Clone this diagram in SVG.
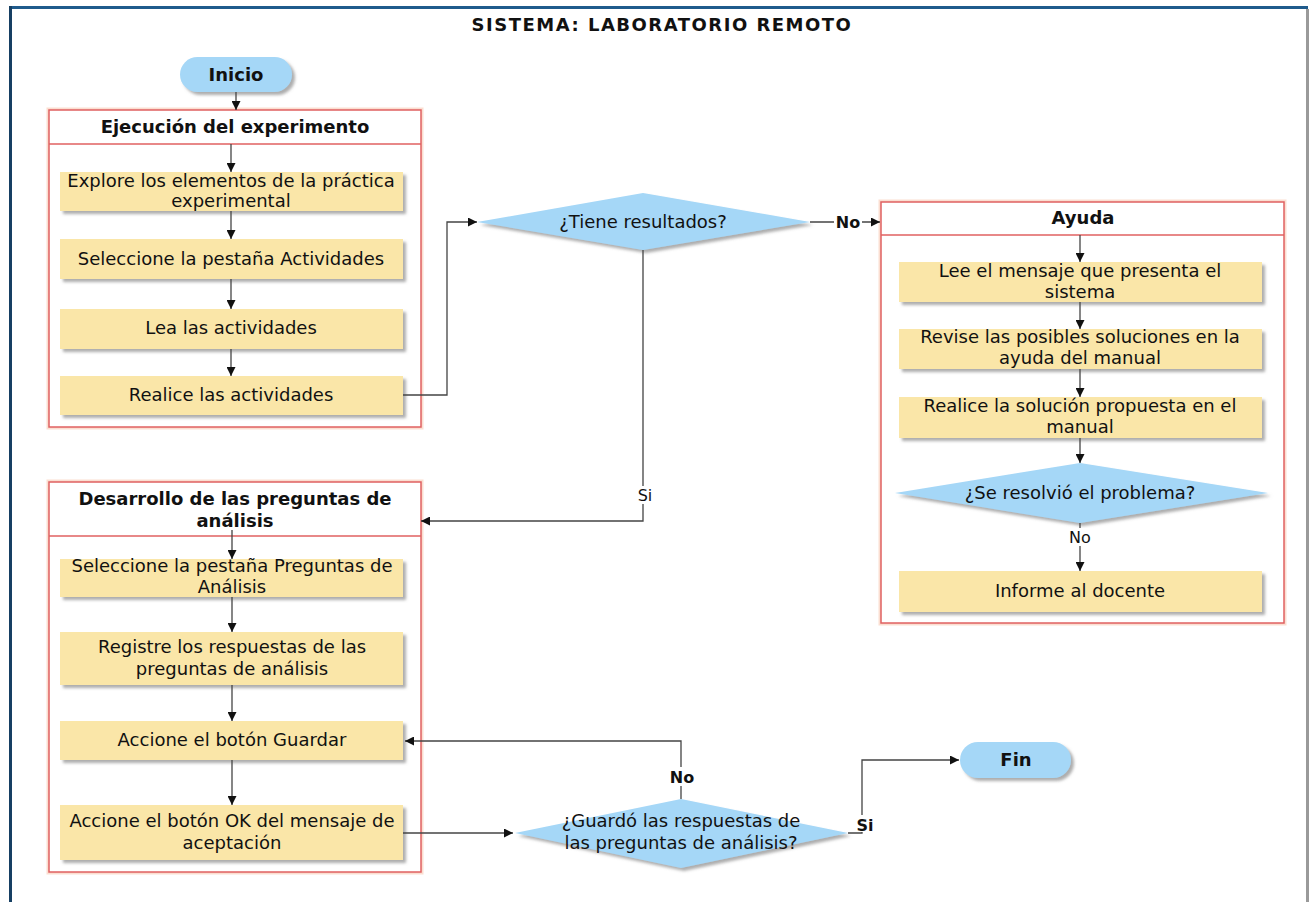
<svg xmlns="http://www.w3.org/2000/svg" width="1311" height="902" viewBox="0 0 1311 902">
<defs>
<style>
text{font-family:"DejaVu Sans","Liberation Sans",sans-serif;fill:#111;text-anchor:middle}
.t{font-size:18px}
.b{font-size:18px;font-weight:bold}
.lb{font-size:16px;font-weight:bold}
.ln2{font-size:16px}
.box{fill:#fae6a8;filter:url(#sh)}
.dia{fill:#a5d7f7;filter:url(#sh)}
.pill{fill:#a5d7f7;filter:url(#sh)}
.cont{fill:#fff;stroke:#e06060;stroke-width:1.5}
.glow{fill:none;stroke:#f7b59a;stroke-width:5;opacity:.45}
.ln{fill:none;stroke:#444;stroke-width:1.3}
.arr{marker-end:url(#ah)}
.lbg{fill:#fff}
</style>
<marker id="ah" viewBox="0 0 10 10" refX="10" refY="5" markerWidth="10" markerHeight="9" markerUnits="userSpaceOnUse" orient="auto">
<path d="M0,0 L10,5 L0,10 z" fill="#111"/>
</marker>
<filter id="sh" x="-10%" y="-20%" width="130%" height="160%">
<feDropShadow dx="3" dy="3" stdDeviation="1.5" flood-color="#777" flood-opacity="0.6"/>
</filter>
</defs>
<rect x="0" y="0" width="1311" height="902" fill="#fff"/>
<g id="frame">
<rect x="9" y="6" width="1299" height="3" fill="#1f5b8c"/>
<rect x="9" y="6" width="3" height="896" fill="#163f63"/>
<rect x="1306" y="9" width="3" height="893" fill="#9a9a9a"/>
</g>
<text class="b" x="662" y="31" style="letter-spacing:1.5px">SISTEMA: LABORATORIO REMOTO</text>

<g id="inicio">
<rect class="pill" x="180" y="57" width="112" height="35" rx="17.5"/>
<text class="b" x="236" y="81">Inicio</text>
</g>

<g id="ejecucion">
<rect class="glow" x="49" y="110" width="372" height="317"/>
<rect class="cont" x="49" y="110" width="372" height="317"/>
<line x1="49" y1="144" x2="421" y2="144" stroke="#e06060" stroke-width="1.5"/>
<text class="b" x="235" y="133">Ejecución del experimento</text>
</g>
<g id="explore">
<rect class="box" x="60" y="172" width="343" height="39"/>
<text class="t" x="231" y="187">Explore los elementos de la práctica</text>
<text class="t" x="231" y="207">experimental</text>
</g>
<g id="seleccione-act">
<rect class="box" x="60" y="239" width="343" height="40"/>
<text class="t" x="231" y="265">Seleccione la pestaña Actividades</text>
</g>
<g id="lea">
<rect class="box" x="60" y="309" width="343" height="40"/>
<text class="t" x="231" y="334">Lea las actividades</text>
</g>
<g id="realice">
<rect class="box" x="60" y="376" width="343" height="39"/>
<text class="t" x="231" y="401">Realice las actividades</text>
</g>

<g id="tiene">
<polygon class="dia" points="477,222 643,193 810,222 643,250"/>
<text class="t" x="643" y="228">¿Tiene resultados?</text>
</g>

<g id="ayuda">
<rect class="glow" x="881" y="202" width="403" height="421"/>
<rect class="cont" x="881" y="202" width="403" height="421"/>
<line x1="881" y1="235" x2="1284" y2="235" stroke="#e06060" stroke-width="1.5"/>
<text class="b" x="1083" y="224">Ayuda</text>
</g>
<g id="lee">
<rect class="box" x="899" y="262" width="363" height="40"/>
<text class="t" x="1080" y="277">Lee el mensaje que presenta el</text>
<text class="t" x="1080" y="298">sistema</text>
</g>
<g id="revise">
<rect class="box" x="899" y="329" width="363" height="40"/>
<text class="t" x="1080" y="343">Revise las posibles soluciones en la</text>
<text class="t" x="1080" y="364">ayuda del manual</text>
</g>
<g id="realice-sol">
<rect class="box" x="899" y="397" width="363" height="41"/>
<text class="t" x="1080" y="412">Realice la solución propuesta en el</text>
<text class="t" x="1080" y="433">manual</text>
</g>
<g id="resolvio">
<polygon class="dia" points="895,493 1080,463 1268,493 1080,523"/>
<text class="t" x="1080" y="499">¿Se resolvió el problema?</text>
</g>
<g id="informe">
<rect class="box" x="899" y="571" width="363" height="41"/>
<text class="t" x="1080" y="597">Informe al docente</text>
</g>

<g id="desarrollo">
<rect class="glow" x="49" y="482" width="372" height="390"/>
<rect class="cont" x="49" y="482" width="372" height="390"/>
<line x1="49" y1="536" x2="421" y2="536" stroke="#e06060" stroke-width="1.5"/>
<text class="b" x="235" y="505">Desarrollo de las preguntas de</text>
<text class="b" x="235" y="527">análisis</text>
</g>
<g id="seleccione-preg">
<rect class="box" x="60" y="559" width="343" height="38"/>
<text class="t" x="232" y="572">Seleccione la pestaña Preguntas de</text>
<text class="t" x="232" y="593">Análisis</text>
</g>
<g id="registre">
<rect class="box" x="60" y="632" width="343" height="53"/>
<text class="t" x="232" y="653">Registre los respuestas de las</text>
<text class="t" x="232" y="675">preguntas de análisis</text>
</g>
<g id="guardar">
<rect class="box" x="60" y="721" width="343" height="39"/>
<text class="t" x="232" y="746">Accione el botón Guardar</text>
</g>
<g id="ok">
<rect class="box" x="60" y="805" width="343" height="55"/>
<text class="t" x="232" y="827">Accione el botón OK del mensaje de</text>
<text class="t" x="232" y="849">aceptación</text>
</g>
<g id="guardo">
<polygon class="dia" points="515,833 681,799 848,833 681,868"/>
<text class="t" x="681" y="827">¿Guardó las respuestas de</text>
<text class="t" x="681" y="849">las preguntas de análisis?</text>
</g>
<g id="fin">
<rect class="pill" x="960" y="742" width="111" height="36" rx="18"/>
<text class="b" x="1016" y="766">Fin</text>
</g>

<g id="connectors">
<path class="ln arr" d="M236,92 V110"/>
<path class="ln arr" d="M231,144 V172"/>
<path class="ln arr" d="M231,211 V239"/>
<path class="ln arr" d="M231,279 V309"/>
<path class="ln arr" d="M231,349 V376"/>
<path class="ln arr" d="M403,395 H447 V222 H477"/>
<path class="ln arr" d="M810,222 H880"/>
<rect class="lbg" x="834" y="212" width="28" height="20"/>
<text class="lb" x="848" y="228">No</text>
<path class="ln arr" d="M1080,235 V262"/>
<path class="ln arr" d="M1080,302 V329"/>
<path class="ln arr" d="M1080,369 V397"/>
<path class="ln arr" d="M1080,438 V463"/>
<path class="ln arr" d="M1080,523 V571"/>
<rect class="lbg" x="1066" y="528" width="28" height="18"/>
<text class="ln2" x="1080" y="543">No</text>
<path class="ln arr" d="M643,250 V521 H421"/>
<rect class="lbg" x="634" y="486" width="22" height="18"/>
<text class="ln2" x="645" y="501">Si</text>
<path class="ln arr" d="M232,530 V559"/>
<path class="ln arr" d="M232,597 V632"/>
<path class="ln arr" d="M232,685 V721"/>
<path class="ln arr" d="M232,760 V805"/>
<path class="ln arr" d="M403,833 H513"/>
<path class="ln arr" d="M681,799 V741 H405"/>
<rect class="lbg" x="667" y="767" width="30" height="19"/>
<text class="lb" x="682" y="783">No</text>
<path class="ln arr" d="M848,833 H862 V760 H959"/>
<rect class="lbg" x="855" y="815" width="20" height="17"/>
<text class="lb" x="865" y="831">Si</text>
</g>
</svg>
